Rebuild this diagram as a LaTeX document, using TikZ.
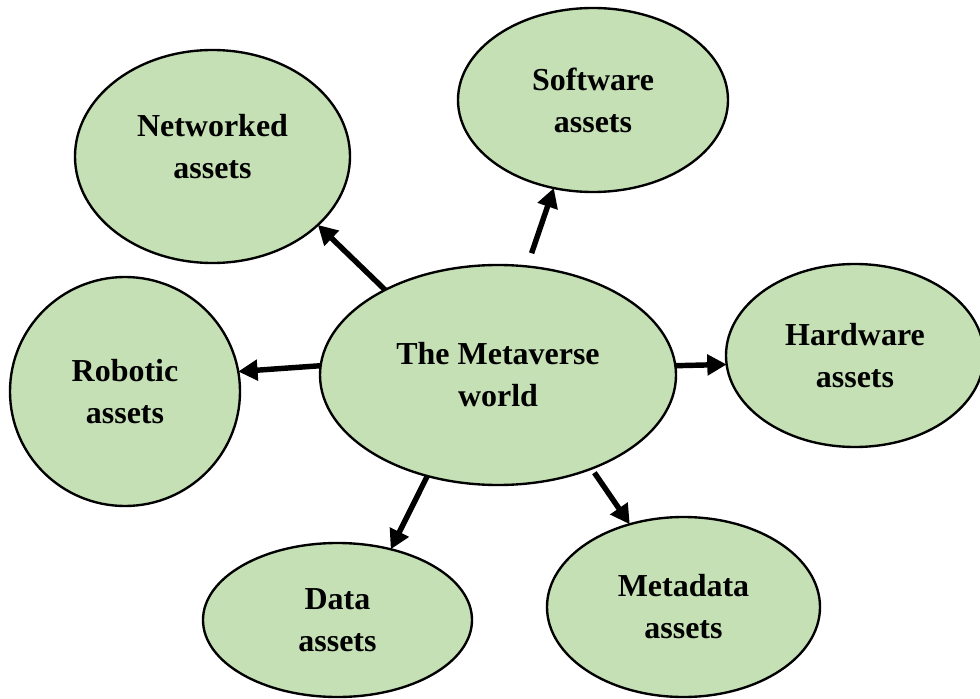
\documentclass[tikz,border=0pt]{standalone}
\usepackage{fontspec}
\setmainfont{Liberation Serif}
\usetikzlibrary{arrows.meta,shapes.geometric}
\definecolor{bubble}{HTML}{C5E0B4}
\tikzset{
  bubbletext/.style={align=center, inner sep=0pt,
    font=\fontsize{18.2pt}{23.9pt}\selectfont\bfseries},
  bubblenode/.style 2 args={ellipse, draw=black, fill=bubble, line width=1.35pt,
    inner sep=0pt, outer sep=0pt, bubbletext,
    minimum width=#1*0.02cm, minimum height=#2*0.02cm},
  arrowline/.style={line width=3.1pt, -{Triangle[length=11pt,width=11.5pt]}}
}
\begin{document}
\begin{tikzpicture}[x=0.02cm, y=-0.02cm]
\useasboundingbox (0,0) rectangle (980,699);
\node[bubblenode={356}{220}] (c)   at (498,375)   {The Metaverse\\world};
\node[bubblenode={275}{213}, label={[bubbletext, yshift=0.19cm]center:Networked\\assets}] (net) at (212.5,156.5) {};
\node[bubblenode={270}{184}] (sw)  at (593,100)   {Software\\assets};
\node[bubblenode={258}{183}] (hw)  at (855,355.5) {Hardware\\assets};
\node[bubblenode={230}{229}] (rob) at (125,391.5) {Robotic\\assets};
\node[bubblenode={269}{154}] (dat) at (337.5,620) {Data\\assets};
\node[bubblenode={273}{180}] (met) at (683.5,607) {Metadata\\assets};
\draw[arrowline] (c.143.5) -- (net.-33.75);
\draw[arrowline, shorten <=0.28cm] (c.75.85) -- (sw.-114.7);
\draw[arrowline] (c.3.86) -- (hw.-176.75);
\draw[arrowline] (c.177.4) -- (rob.10.96);
\draw[arrowline] (c.-125.27) -- (dat.53.13);
\draw[arrowline, shorten <=0.1cm] (c.-45.89) -- (met.123.46);
\end{tikzpicture}
\end{document}
